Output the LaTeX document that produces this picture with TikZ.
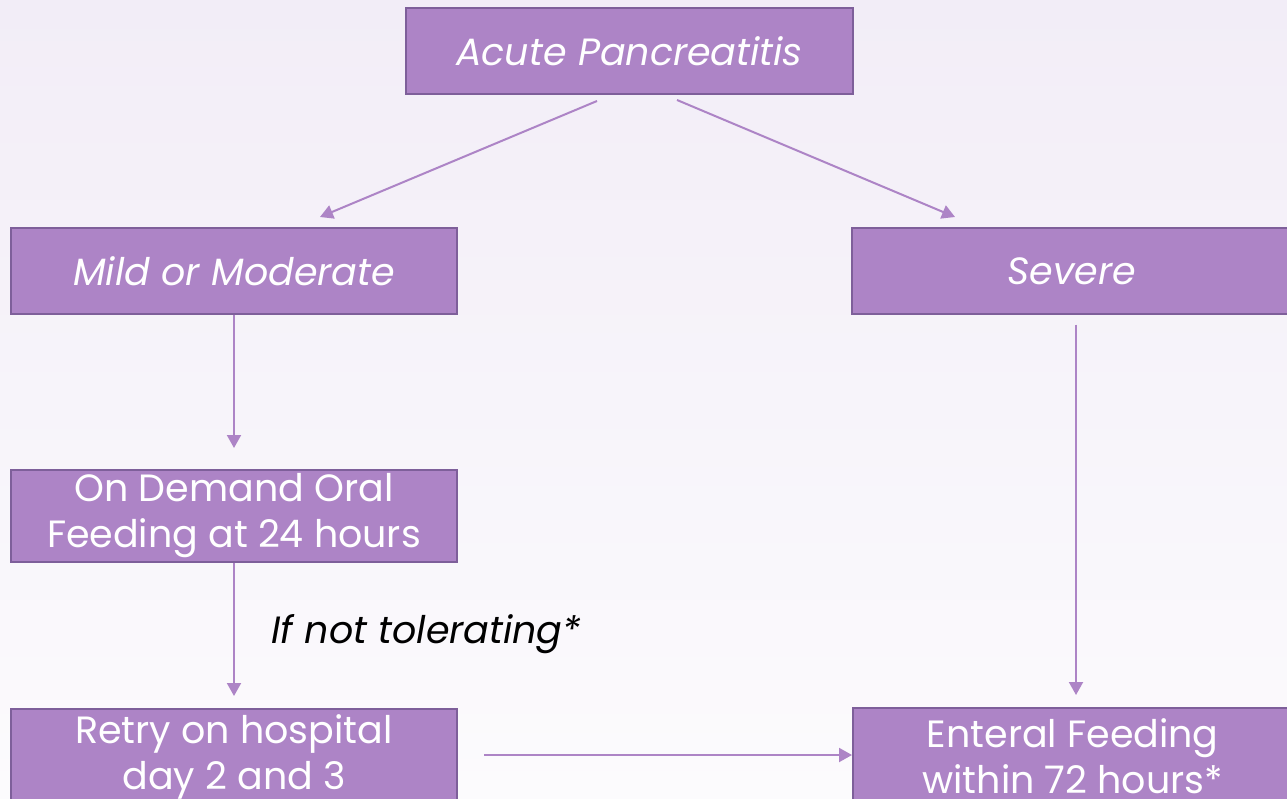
\documentclass[tikz,border=0pt]{standalone}
\usepackage{fontspec}
\setmainfont{Poppins}
\usetikzlibrary{arrows.meta}
\definecolor{boxfill}{HTML}{AD84C6}
\definecolor{boxline}{HTML}{7E5F9A}
\definecolor{bgtop}{HTML}{F2EDF7}
\definecolor{bgbot}{HTML}{FCFBFD}

\begin{document}
\begin{tikzpicture}[x=1pt, y=-1pt,
  box/.style={draw=boxline, line width=1.5pt, fill=boxfill, text=white, align=center,
    minimum width=446pt, inner sep=0pt, font=\fontsize{38}{46}\selectfont},
  arr/.style={-{Triangle[length=13pt,width=14pt]}, draw=boxfill, line width=2pt}]
  \clip (0,0) rectangle (1287,799);
  \shade[top color=bgtop, bottom color=bgbot] (0,0) rectangle (1287,799);

  \node[box, minimum height=86pt, minimum width=447pt] (acute) at (629.5,51) {\itshape Acute Pancreatitis};
  \node[box, minimum height=86pt] (mild) at (234,271) {\itshape Mild or Moderate};
  \node[box, minimum height=86pt, minimum width=440pt] (severe) at (1072,271) {\itshape Severe};
  \node[box, minimum height=92pt] (oral) at (234,516) {On Demand Oral\\Feeding at 24 hours};
  \node[box, minimum height=96pt, anchor=north] (retry) at (234,708) {Retry on hospital\\day 2 and 3};
  \node[box, minimum height=96pt, minimum width=440pt, anchor=north west] (enteral) at (852,707) {Enteral Feeding\\within 72 hours*};

  \coordinate (accl) at (597,101);
  \coordinate (accr) at (677,100);
  \coordinate (mildin) at (320,217);
  \coordinate (sevin) at (955,217);
  \draw[arr] (accl) -- (mildin);
  \draw[arr] (accr) -- (sevin);
  \draw[arr] (mild.south) -- (234,448);
  \draw[arr] (severe.south) ++(4,10) -- (1076,695);
  \draw[arr] (oral.south) -- (234,696);
  \draw[arr] (484,755) -- (enteral.west|-0,755);

  \node[font=\fontsize{38}{44}\selectfont\itshape, anchor=west] (tol) at (268,634) {If not tolerating*};
\end{tikzpicture}
\end{document}
